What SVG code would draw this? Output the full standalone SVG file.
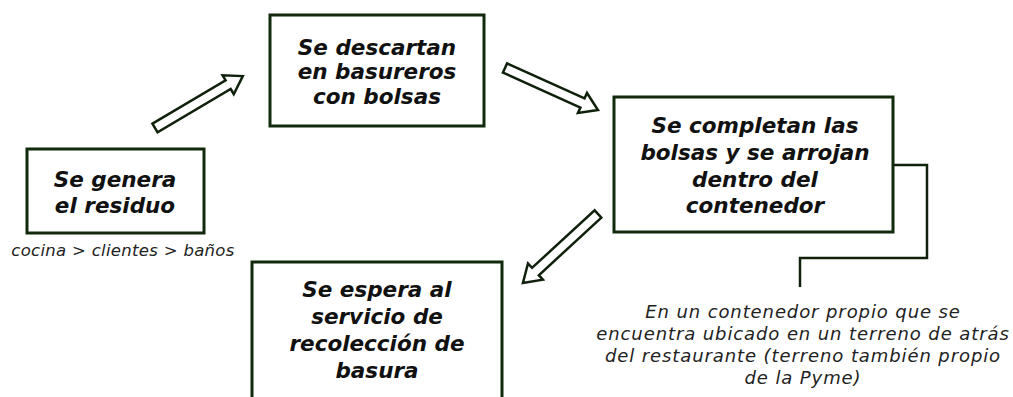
<svg xmlns="http://www.w3.org/2000/svg" width="1013" height="397" viewBox="0 0 1013 397">
<style>
.box{fill:#fff;stroke:#112a0c;stroke-width:3}
.t{font-family:"DejaVu Sans",sans-serif;font-weight:bold;font-style:italic;font-size:21.5px;fill:#111;text-anchor:middle}
.s{font-family:"DejaVu Sans",sans-serif;font-style:italic;font-size:18px;letter-spacing:0.9px;fill:#222;text-anchor:middle}
.arr{fill:#fff;stroke:#0f200b;stroke-width:2.5;stroke-linejoin:miter}
.ln{fill:none;stroke:#0f200b;stroke-width:2.5}
</style>
<defs>
<path id="blk" d="M0,-5 L85,-5 L85,-11 L102,0 L85,11 L85,5 L0,5 Z"/>
</defs>
<rect width="1013" height="397" fill="#fff"/>
<g id="connectors">
<use href="#blk" class="arr" transform="translate(155,128) rotate(-30.6)"/>
<use href="#blk" class="arr" transform="translate(505,68) rotate(24.3)"/>
<use href="#blk" class="arr" transform="translate(598,214) rotate(137.4)"/>
<polyline class="ln" points="893,165 927,165 927,258 800,258 800,287"/>
</g>
<g id="n1">
<rect class="box" x="27" y="149" width="177" height="84"/>
<text class="t" x="115" y="187">Se genera</text>
<text class="t" x="115" y="213">el residuo</text>
<text class="s" x="123" y="256" style="font-size:16.5px;letter-spacing:0.3px">cocina &gt; clientes &gt; baños</text>
</g>
<g id="n2">
<rect class="box" x="270" y="15" width="214" height="111"/>
<text class="t" x="377" y="55">Se descartan</text>
<text class="t" x="377" y="79">en basureros</text>
<text class="t" x="377" y="104">con bolsas</text>
</g>
<g id="n3">
<rect class="box" x="614" y="97" width="279" height="135"/>
<text class="t" x="755" y="133">Se completan las</text>
<text class="t" x="755" y="160">bolsas y se arrojan</text>
<text class="t" x="755" y="187">dentro del</text>
<text class="t" x="755" y="213">contenedor</text>
</g>
<g id="n4">
<rect class="box" x="252" y="262" width="250" height="150"/>
<text class="t" x="377" y="297">Se espera al</text>
<text class="t" x="377" y="324">servicio de</text>
<text class="t" x="377" y="351">recolección de</text>
<text class="t" x="377" y="378">basura</text>
</g>
<g id="note">
<text class="s" x="803" y="318">En un contenedor propio que se</text>
<text class="s" x="803" y="340">encuentra ubicado en un terreno de atrás</text>
<text class="s" x="803" y="362">del restaurante (terreno también propio</text>
<text class="s" x="803" y="384">de la Pyme)</text>
</g>
</svg>
